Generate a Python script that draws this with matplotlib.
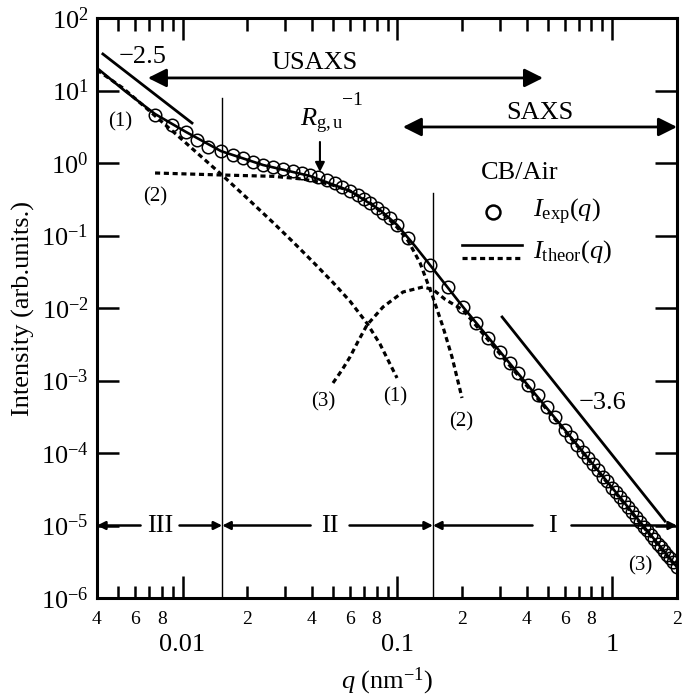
import math
import matplotlib
matplotlib.use("Agg")
import matplotlib.pyplot as plt
from matplotlib.ticker import FixedLocator

plt.rcParams['font.family'] = ['Liberation Serif', 'DejaVu Serif']
plt.rcParams['mathtext.fontset'] = 'custom'
plt.rcParams['mathtext.rm'] = 'Liberation Serif'
plt.rcParams['mathtext.it'] = 'Liberation Serif:italic'
plt.rcParams['mathtext.bf'] = 'Liberation Serif:bold'

# ---- experimental data I_exp(q) ----
q_exp = [0.00745, 0.00894, 0.01038, 0.01168, 0.01314, 0.0151, 0.01718, 0.01911, 0.02128,
         0.02369, 0.02637, 0.02935, 0.03267, 0.03598, 0.0392, 0.0427, 0.04703, 0.05124,
         0.05523, 0.06017, 0.06556, 0.0699, 0.07457, 0.08036, 0.0857, 0.09235, 0.0996,
         0.1120, 0.1418, 0.1720, 0.2020, 0.2320, 0.2639, 0.3002, 0.3342, 0.364, 0.4052,
         0.4509, 0.4966, 0.5412, 0.6025, 0.6423, 0.6849, 0.7304, 0.7705, 0.8130, 0.8579,
         0.9051, 0.9446, 0.9966, 1.0403, 1.0858, 1.1334, 1.1831, 1.2348, 1.2890, 1.3455,
         1.4045, 1.4503, 1.5136, 1.5631, 1.6319, 1.6852, 1.7402, 1.7971, 1.8558, 1.9164, 2.0]
I_exp = [4.59, 3.34, 2.68, 2.08, 1.66, 1.46, 1.29, 1.17, 1.03,
         0.938, 0.881, 0.826, 0.776, 0.728, 0.683, 0.641, 0.583, 0.530,
         0.467, 0.411, 0.362, 0.319, 0.281, 0.239, 0.204, 0.174, 0.140,
         0.0924, 0.0392, 0.0195, 0.01033, 6.21e-3, 3.86e-3, 2.47e-3, 1.74e-3, 1.27e-3, 8.67e-4,
         6.31e-4, 4.31e-4, 3.14e-4, 2.07e-4, 1.643e-4, 1.302e-4, 1.031e-4, 8.49e-5, 6.99e-5, 5.76e-5,
         4.74e-5, 4.06e-5, 3.34e-5, 2.86e-5, 2.45e-5, 2.10e-5, 1.795e-5, 1.537e-5, 1.315e-5, 1.126e-5,
         9.64e-6, 8.58e-6, 7.34e-6, 6.54e-6, 5.60e-6, 4.98e-6, 4.43e-6, 3.94e-6, 3.51e-6, 3.12e-6, 2.67e-6]

# ---- theoretical total I_theor(q) ----
q_th = [0.004, 0.0054, 0.00745, 0.01038, 0.0151, 0.0237, 0.0392, 0.0602, 0.0830, 0.0996,
        0.1207, 0.1418, 0.2020, 0.6025, 2.0]
I_th = [20.4, 9.84, 4.74, 2.68, 1.46, 0.938, 0.662, 0.411, 0.225, 0.140,
        0.0716, 0.0392, 0.01033, 2.07e-4, 2.67e-6]

# ---- component (1) ----
q_c1 = [0.004, 0.0046, 0.00528, 0.00669, 0.00803, 0.00953, 0.01143, 0.01527, 0.02017,
        0.02637, 0.03267, 0.04047, 0.05014, 0.06017, 0.0722, 0.0830, 0.0996]
I_c1 = [19.2, 14.4, 10.8, 5.92, 3.68, 2.36, 1.46, 0.683, 0.319,
        0.151, 0.0816, 0.0432, 0.02247, 0.01241, 6.15e-3, 3.18e-3, 1.083e-3]

# ---- component (2) ----
q_c2 = [0.00745, 0.01527, 0.02637, 0.03636, 0.04857, 0.06017, 0.07457, 0.08753, 0.0996,
        0.1120, 0.1274, 0.1464, 0.1630, 0.1795, 0.1998]
I_c2 = [0.728, 0.683, 0.655, 0.600, 0.510, 0.411, 0.283, 0.190, 0.130,
        0.0850, 0.0420, 0.0140, 5.47e-3, 2.11e-3, 5.74e-4]

# ---- component (3) ----
q_c3 = [0.05014, 0.05523, 0.06017, 0.06556, 0.0722, 0.0857, 0.1062, 0.1316, 0.1464,
        0.1665, 0.2020, 0.3002, 0.6025, 2.0]
I_c3 = [9.24e-4, 1.396e-3, 2.11e-3, 3.45e-3, 5.83e-3, 0.01033, 0.01663, 0.0195, 0.0180,
        0.01320, 9.38e-3, 2.32e-3, 2.01e-4, 2.59e-6]

# ---- slope guide lines ----
q_s25 = [0.00426, 0.01107]
I_s25 = [31.9, 3.56]
q_s36 = [0.307, 1.758]
I_s36 = [7.52e-3, 1.15e-5]

# ---- region boundaries / ranges ----
q_bound = [0.0153, 0.1464]
I_bound_top = [7.9, 0.386]
usaxs_range = [0.0069, 0.476]
saxs_range = [0.106, 2.0]
rg_q = 0.0436

xmin, xmax = 0.004, 2.0
ymin, ymax = 1e-6, 1e2

fig = plt.figure(figsize=(6.85, 6.96), dpi=100)
ax = fig.add_axes([97/685, 1-598/696, 580/685, 580/696])
ax.set_xscale('log')
ax.set_yscale('log')
ax.set_xlim(xmin, xmax)
ax.set_ylim(ymin, ymax)

dash = (1.6, 1.15)
ax.plot(q_c1, I_c1, color='black', lw=2.3, ls=(0, dash))
ax.plot(q_c2, I_c2, color='black', lw=2.3, ls=(0, dash))
ax.plot(q_c3, I_c3, color='black', lw=2.3, ls=(0, dash))
ax.plot(q_th, I_th, color='black', lw=1.9)
ax.plot(q_exp, I_exp, ls='none', marker='o', ms=9, mfc='none', mec='black', mew=1.1)

ax.plot(q_s25, I_s25, color='black', lw=2.0)
ax.plot(q_s36, I_s36, color='black', lw=2.0)

for qb, it in zip(q_bound, I_bound_top):
    ax.plot([qb, qb], [ymin, it], color='black', lw=1.0)

# USAXS / SAXS arrows
ax.annotate('', xy=(usaxs_range[0], 14.9), xytext=(usaxs_range[1], 14.9),
            arrowprops=dict(arrowstyle='<|-|>', lw=2.0, color='black', mutation_scale=28,
                            shrinkA=0, shrinkB=0))
ax.annotate('', xy=(saxs_range[0], 3.14), xytext=(saxs_range[1], 3.14),
            arrowprops=dict(arrowstyle='<|-|>', lw=2.0, color='black', mutation_scale=28,
                            shrinkA=0, shrinkB=0))
fs = 19
ax.text(0.376, 0.922, 'USAXS', transform=ax.transAxes, ha='center', va='center', fontsize=fs)
ax.text(0.764, 0.836, 'SAXS', transform=ax.transAxes, ha='center', va='center', fontsize=fs)

# Rg arrow
ax.annotate('', xy=(rg_q, 0.752), xytext=(rg_q, 1.95),
            arrowprops=dict(arrowstyle='-|>', lw=1.5, color='black', mutation_scale=14,
                            shrinkA=0, shrinkB=0))
ax.text(0.388, 0.822, r'$R_{\rm g,u}$', transform=ax.transAxes, ha='center', va='center', fontsize=fs)
ax.text(0.441, 0.858, '\u22121', transform=ax.transAxes, ha='center', va='center', fontsize=14)

ax.text(0.078, 0.933, '\u22122.5', transform=ax.transAxes, ha='center', va='center', fontsize=fs)
ax.text(0.872, 0.336, '\u22123.6', transform=ax.transAxes, ha='center', va='center', fontsize=fs)

# region arrows at 1e-5
reg_y = 1e-5
regions = [('III', 0.00786, xmin, q_bound[0]),
           ('II', 0.0486, q_bound[0], q_bound[1]),
           ('I', 0.524, q_bound[1], xmax)]
for lab, qc, ql, qr in regions:
    ax.text(qc, reg_y, lab, ha='center', va='center', fontsize=fs)
    for qe in (ql, qr):
        ax.annotate('', xy=(qe, reg_y), xytext=(qc, reg_y),
                    arrowprops=dict(arrowstyle='-|>', lw=1.8, color='black', mutation_scale=12,
                                    shrinkA=14, shrinkB=0))

# curve labels
lfs = 15
for txt, xf, yf in [('(1)', 0.040, 0.821), ('(2)', 0.100, 0.691), ('(3)', 0.390, 0.338),
                    ('(1)', 0.514, 0.347), ('(2)', 0.628, 0.303), ('(3)', 0.936, 0.055)]:
    ax.text(xf, yf, txt, transform=ax.transAxes, ha='center', va='center', fontsize=lfs)

# legend (manual)
ax.text(0.729, 0.733, 'CB/Air', transform=ax.transAxes, ha='center', va='center', fontsize=fs)
ax.plot([0.683], [0.666], transform=ax.transAxes, marker='o', ms=10, mfc='none', mec='black', mew=1.8)
ax.text(0.752, 0.666, r'$I_{\rm exp}(q)$', transform=ax.transAxes, ha='left', va='center', fontsize=fs)
ax.plot([0.629, 0.733], [0.609, 0.609], transform=ax.transAxes, color='black', lw=1.9)
ax.plot([0.629, 0.733], [0.586, 0.586], transform=ax.transAxes, color='black', lw=2.3, ls=(0, dash))
ax.text(0.752, 0.598, r'$I_{\rm theor}(q)$', transform=ax.transAxes, ha='left', va='center', fontsize=fs)

# ticks
for s in ax.spines.values():
    s.set_linewidth(2.2)
major_x = [0.01, 0.1, 1]
minor_x = [m * d for d in (0.001, 0.01, 0.1, 1) for m in range(2, 10) if xmin <= m * d <= xmax]
ax.xaxis.set_major_locator(FixedLocator(major_x))
ax.xaxis.set_minor_locator(FixedLocator(minor_x))
ax.set_xticklabels(['0.01', '0.1', '1'], fontsize=fs)
lbls = []
for v in minor_x:
    d = int(round(v / 10 ** math.floor(math.log10(v) + 1e-9)))
    lbls.append(str(d) if d in (2, 4, 6, 8) else '')
ax.set_xticklabels(lbls, minor=True, fontsize=14)
ax.yaxis.set_major_locator(FixedLocator([10.0 ** k for k in range(-6, 3)]))
ax.yaxis.set_minor_locator(FixedLocator([]))
ax.set_yticklabels([r'$10^{%d}$' % k for k in range(-6, 3)], fontsize=fs)
ax.tick_params(axis='both', which='both', direction='in', top=True, right=True, width=1.8)
ax.tick_params(axis='x', which='major', length=16, pad=26)
ax.tick_params(axis='x', which='minor', length=9, pad=9)
ax.tick_params(axis='y', which='major', length=16, pad=6)

ax.set_xlabel(r'$q$ (nm$^{-1}$)', fontsize=fs, labelpad=7)
ax.set_ylabel('Intensity (arb.units.)', fontsize=fs, labelpad=4)

fig.savefig('out.png', dpi=100)
